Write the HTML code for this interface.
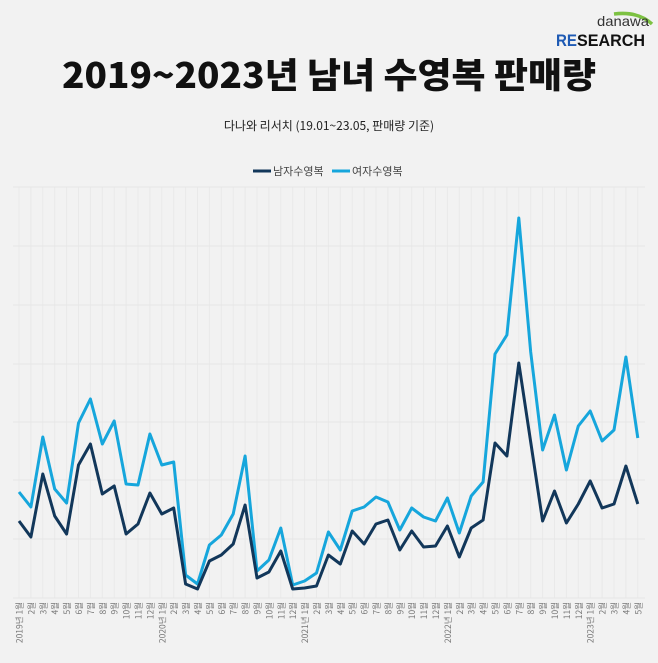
<!DOCTYPE html>
<html><head><meta charset="utf-8"><style>
html,body{margin:0;padding:0;background:#f2f2f2;}
body{width:658px;height:658px;overflow:hidden;font-family:"Liberation Sans","Noto Sans CJK KR",sans-serif;}
</style></head><body>
<svg width="658" height="658" viewBox="0 0 658 658" xmlns="http://www.w3.org/2000/svg" font-family="Liberation Sans, Noto Sans CJK KR, sans-serif">
<rect width="658" height="658" fill="#f2f2f2"/>
<!-- logo -->
<path d="M614 14 Q638 11 652 24" stroke="#7dc242" stroke-width="3.5" fill="none"/>
<text x="597" y="26" font-size="14" fill="#333" textLength="52" lengthAdjust="spacingAndGlyphs">danawa</text>
<text x="556" y="46" font-size="17" font-weight="bold" fill="#1e5ab4" textLength="21" lengthAdjust="spacingAndGlyphs">RE</text>
<text x="577" y="46" font-size="17" font-weight="bold" fill="#111" textLength="68" lengthAdjust="spacingAndGlyphs">SEARCH</text>
<!-- titles -->
<text x="329" y="88" font-size="35" font-weight="900" fill="#111" text-anchor="middle" font-family="Noto Sans CJK KR, sans-serif" textLength="534" lengthAdjust="spacingAndGlyphs">2019~2023년 남녀 수영복 판매량</text>
<text x="329" y="130" font-size="12" fill="#222" text-anchor="middle" font-family="Noto Sans CJK KR, sans-serif">다나와 리서치 (19.01~23.05, 판매량 기준)</text>
<!-- legend -->
<line x1="253" y1="171" x2="271" y2="171" stroke="#12375a" stroke-width="3"/>
<text x="273" y="175" font-size="11" fill="#444" font-family="Noto Sans CJK KR, sans-serif">남자수영복</text>
<line x1="332" y1="171" x2="350" y2="171" stroke="#16a6dc" stroke-width="3"/>
<text x="352" y="175" font-size="11" fill="#444" font-family="Noto Sans CJK KR, sans-serif">여자수영복</text>
<g id="grid" stroke="#e9e9e9" stroke-width="1"></g>
<g stroke="#e6e6e6" stroke-width="1">
<line x1="13" y1="187" x2="645" y2="187"/><line x1="13" y1="246" x2="645" y2="246"/><line x1="13" y1="305" x2="645" y2="305"/><line x1="13" y1="364" x2="645" y2="364"/><line x1="13" y1="422" x2="645" y2="422"/><line x1="13" y1="480" x2="645" y2="480"/><line x1="13" y1="539" x2="645" y2="539"/><line x1="13" y1="598" x2="645" y2="598"/>
</g>
<g id="labels" font-size="8.5" fill="#777" font-family="Noto Sans CJK KR, sans-serif"></g>
<polyline fill="none" stroke="#16a6dc" stroke-width="3" stroke-linejoin="round" points="19,492 30.9,507 42.8,437 54.7,489 66.6,503 78.5,423 90.4,399 102.3,444 114.2,421 126.1,484 138,485 149.9,434 161.8,465 173.7,462 185.6,575 197.5,584 209.4,545 221.3,535 233.2,514 245.1,456 257,571 268.9,560 280.8,528 292.7,585 304.6,581 316.5,573 328.4,532 340.3,550 352.2,511 364.1,507 376,497 387.9,502 399.8,530 411.7,508 423.6,517 435.5,521 447.4,498 459.3,533 471.2,496 483.1,482 495,354 506.9,335 518.8,218 530.7,352 542.6,450 554.5,415 566.4,470 578.3,426 590.2,411 602.1,441 614,430 625.9,357 637.8,438"/>
<polyline fill="none" stroke="#12375a" stroke-width="3" stroke-linejoin="round" points="19,521 30.9,537 42.8,474 54.7,516 66.6,534 78.5,465 90.4,444 102.3,494 114.2,486 126.1,534 138,524 149.9,493 161.8,514 173.7,508 185.6,584 197.5,589 209.4,561 221.3,555 233.2,544 245.1,505 257,578 268.9,572 280.8,551 292.7,589 304.6,588 316.5,586 328.4,555 340.3,564 352.2,531 364.1,544 376,524 387.9,520 399.8,550 411.7,531 423.6,547 435.5,546 447.4,526 459.3,557 471.2,528 483.1,520 495,443 506.9,456 518.8,363 530.7,442 542.6,521 554.5,491 566.4,523 578.3,504 590.2,481 602.1,508 614,504 625.9,466 637.8,504"/>
</svg>
<script>
(function(){
var ns="http://www.w3.org/2000/svg",g=document.getElementById('grid'),lb=document.getElementById('labels');
for(var i=0;i<53;i++){
 var x=19+11.9*i;
 var l=document.createElementNS(ns,'line');
 l.setAttribute('x1',x);l.setAttribute('x2',x);l.setAttribute('y1',187);l.setAttribute('y2',598);
 g.appendChild(l);
 var m=i%12+1,t=(m==1?(2019+Math.floor(i/12))+'년 ':'')+m+'월';
 var tx=document.createElementNS(ns,'text');
 tx.setAttribute('transform','translate('+(x+3.5)+',602) rotate(-90)');
 tx.setAttribute('text-anchor','end');
 tx.textContent=t;lb.appendChild(tx);
}
})();
</script>
</body></html>
